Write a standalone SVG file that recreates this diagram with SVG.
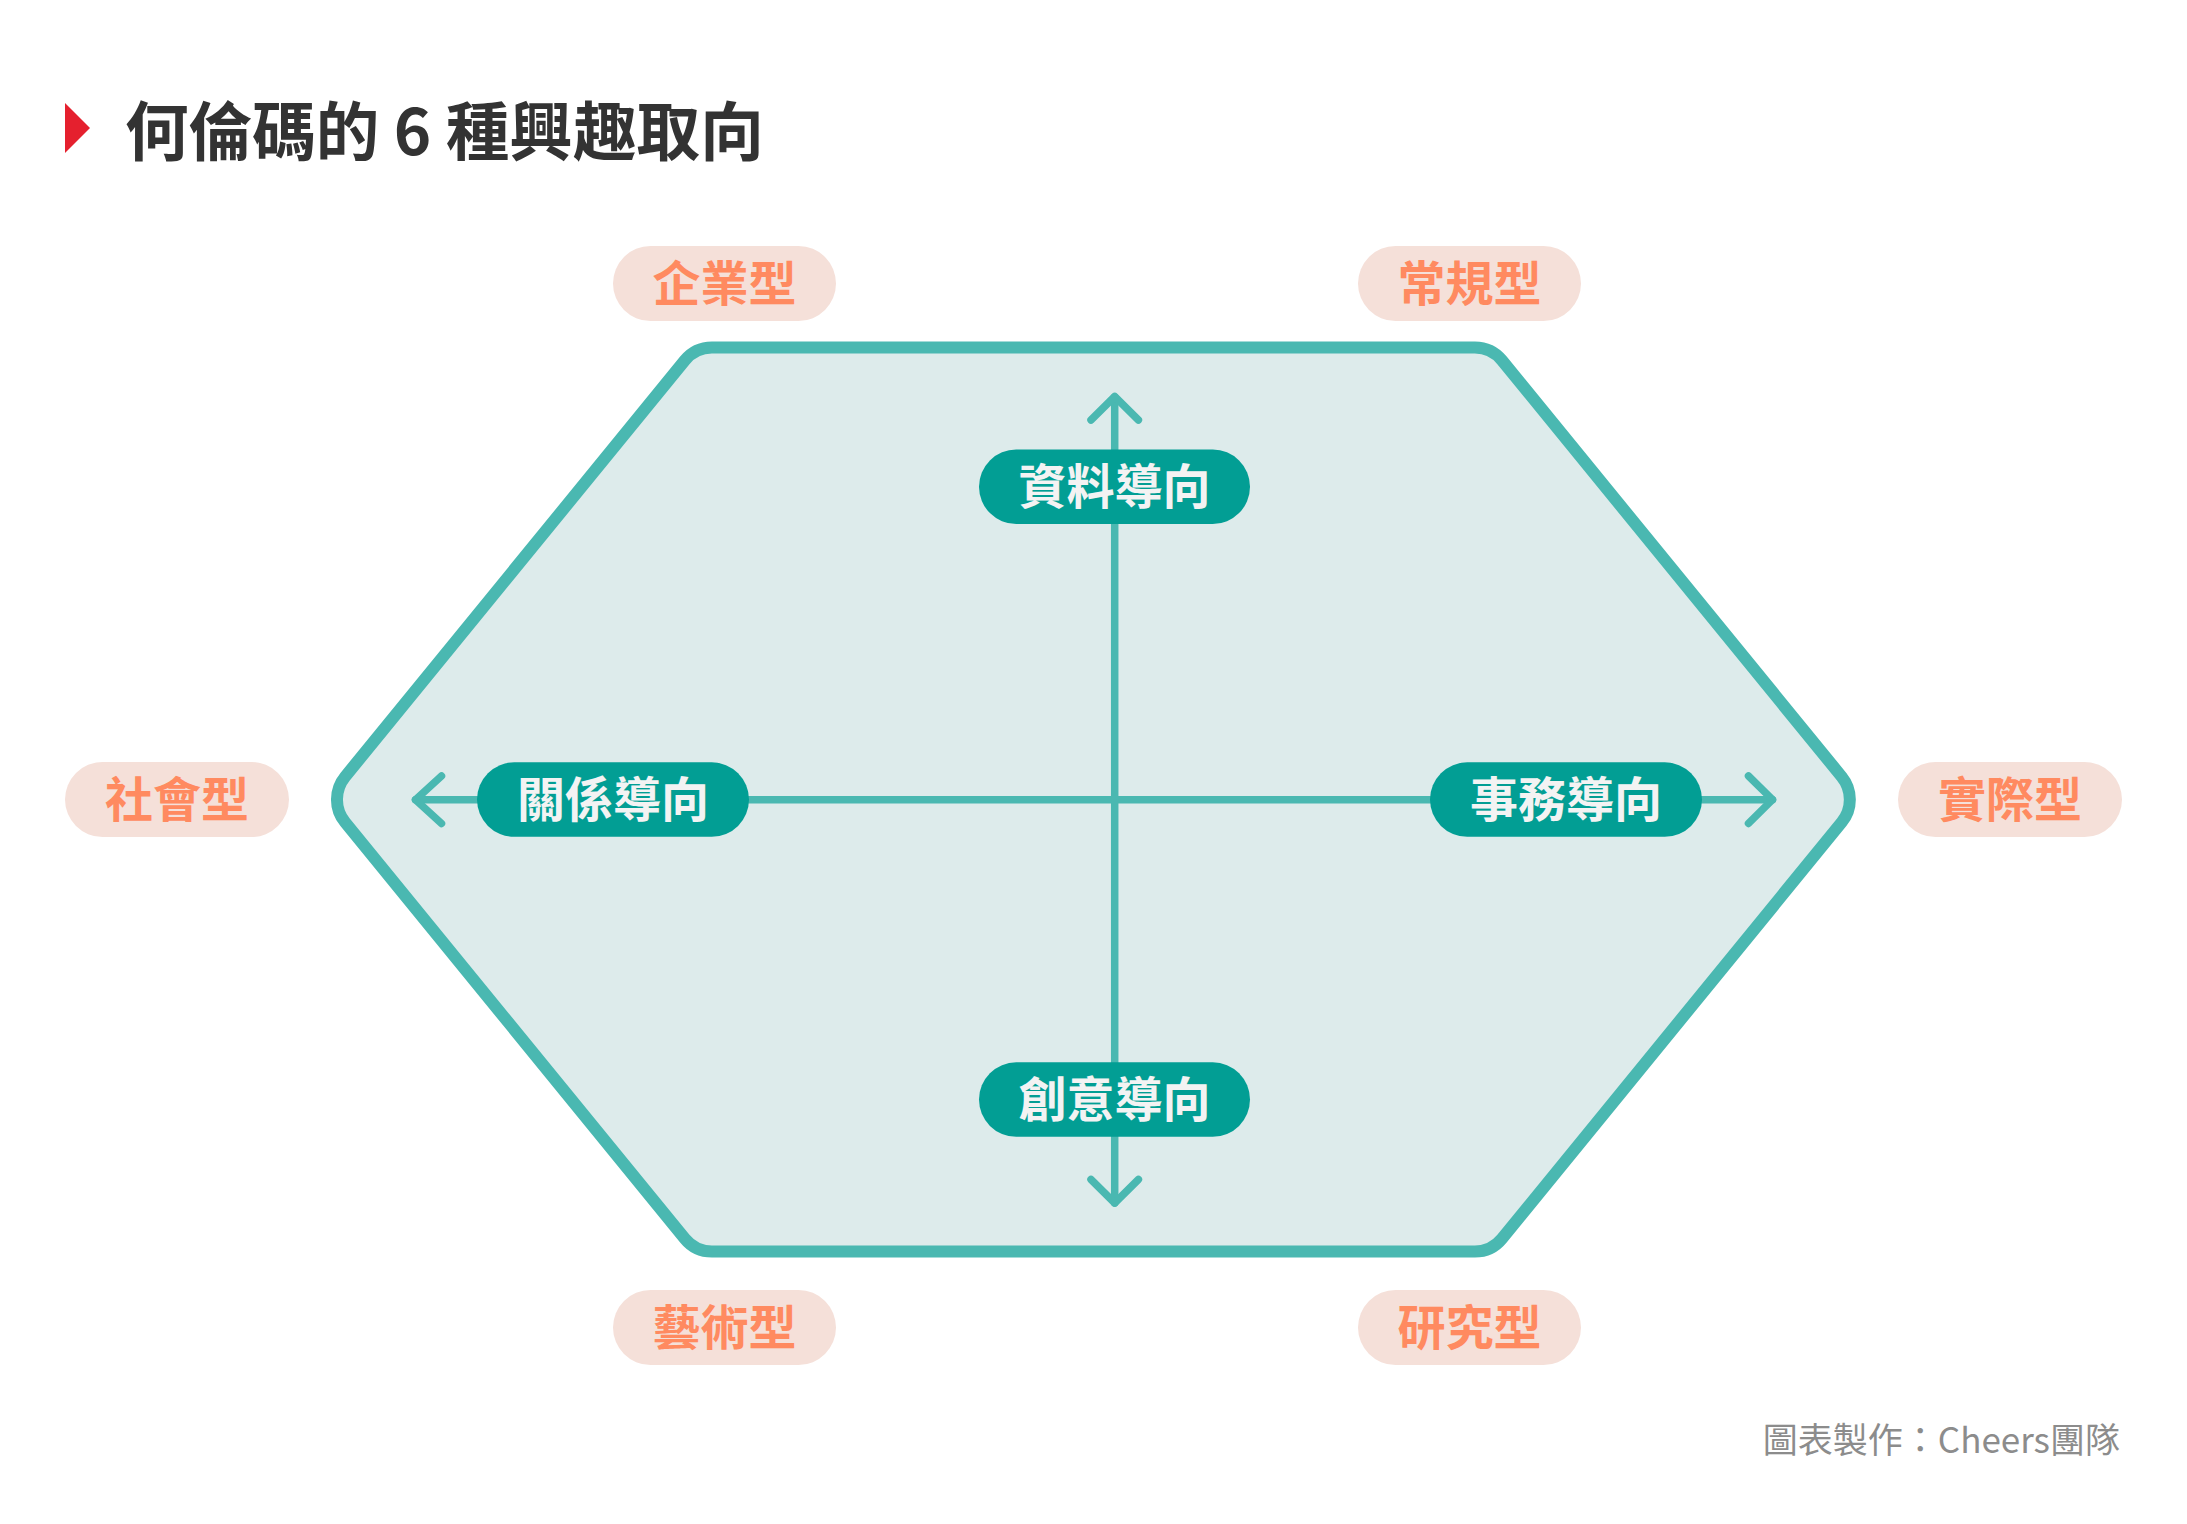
<svg xmlns="http://www.w3.org/2000/svg" width="2187" height="1524" viewBox="0 0 2187 1524">
  <style>
    text { font-family: "Noto Sans CJK TC", "Noto Sans CJK SC", sans-serif; }
    .title { font-size: 63.6px; font-weight: 700; fill: #333333; }
    .hex { fill: #DDEBEB; stroke: #4AB8B1; stroke-width: 12; }
    .axis { fill: none; stroke: #4AB8B1; stroke-width: 7.5; stroke-linecap: round; stroke-linejoin: round; }
    .dpill { fill: #029E94; }
    .dtext { font-size: 48px; font-weight: 700; fill: #F3F3F3; text-anchor: middle; }
    .opill { fill: #F5E0D9; }
    .otext { font-size: 48px; font-weight: 700; fill: #FF8A60; text-anchor: middle; }
    .foot { font-size: 35px; font-weight: 400; fill: #8C8C8C; text-anchor: end; }
  </style>
  <rect width="2187" height="1524" fill="#FFFFFF"/>

  <g id="title">
    <polygon points="65,103 90,128 65,153" fill="#E5202E"/>
    <text class="title" x="125" y="155">何倫碼的 6 種興趣取向</text>
  </g>

  <g id="hexagon">
    <path class="hex" d="M 711.9 347.5 H 1474.9 A 35 35 0 0 1 1502.0 360.4 L 1841.7 776.7 A 36 36 0 0 1 1841.7 822.3 L 1502.0 1238.6 A 35 35 0 0 1 1474.9 1251.5 H 711.9 A 35 35 0 0 1 684.8 1238.6 L 345.1 822.3 A 36 36 0 0 1 345.1 776.7 L 684.8 360.4 A 35 35 0 0 1 711.9 347.5 Z"/>
  </g>

  <g id="connectors">
    <line class="axis" x1="1114.7" y1="397" x2="1114.7" y2="1203"/>
    <polyline class="axis" points="1091,420 1114.7,396.5 1138.4,420"/>
    <polyline class="axis" points="1091,1179.5 1114.7,1203 1138.4,1179.5"/>
    <line class="axis" x1="415.5" y1="799.7" x2="1772.5" y2="799.7"/>
    <polyline class="axis" points="441.5,776 415.5,799.7 441.5,823.4"/>
    <polyline class="axis" points="1748.5,776 1772.5,799.7 1748.5,823.4"/>
  </g>

  <g id="node-data">
    <rect class="dpill" x="979" y="449.5" width="271" height="74.5" rx="37.25"/>
    <text class="dtext" x="1114.5" y="503.5">資料導向</text>
  </g>
  <g id="node-relation">
    <rect class="dpill" x="477" y="762.3" width="272" height="74.5" rx="37.25"/>
    <text class="dtext" x="613" y="816.5">關係導向</text>
  </g>
  <g id="node-task">
    <rect class="dpill" x="1430" y="762.3" width="272" height="74.5" rx="37.25"/>
    <text class="dtext" x="1566" y="816.5">事務導向</text>
  </g>
  <g id="node-creative">
    <rect class="dpill" x="979" y="1062.3" width="271" height="74.5" rx="37.25"/>
    <text class="dtext" x="1114.5" y="1116.5">創意導向</text>
  </g>

  <g id="type-enterprising">
    <rect class="opill" x="613" y="246" width="223" height="75" rx="37.5"/>
    <text class="otext" x="724.5" y="300.5">企業型</text>
  </g>
  <g id="type-conventional">
    <rect class="opill" x="1358" y="246" width="223" height="75" rx="37.5"/>
    <text class="otext" x="1469.5" y="300.5">常規型</text>
  </g>
  <g id="type-social">
    <rect class="opill" x="65" y="762" width="224" height="75" rx="37.5"/>
    <text class="otext" x="177" y="816.5">社會型</text>
  </g>
  <g id="type-realistic">
    <rect class="opill" x="1898" y="762" width="224" height="75" rx="37.5"/>
    <text class="otext" x="2010" y="816.5">實際型</text>
  </g>
  <g id="type-artistic">
    <rect class="opill" x="613" y="1290" width="223" height="75" rx="37.5"/>
    <text class="otext" x="724.5" y="1344.5">藝術型</text>
  </g>
  <g id="type-investigative">
    <rect class="opill" x="1358" y="1290" width="223" height="75" rx="37.5"/>
    <text class="otext" x="1469.5" y="1344.5">研究型</text>
  </g>

  <g id="footer">
    <text class="foot" x="2120" y="1453">圖表製作：Cheers團隊</text>
  </g>
</svg>
